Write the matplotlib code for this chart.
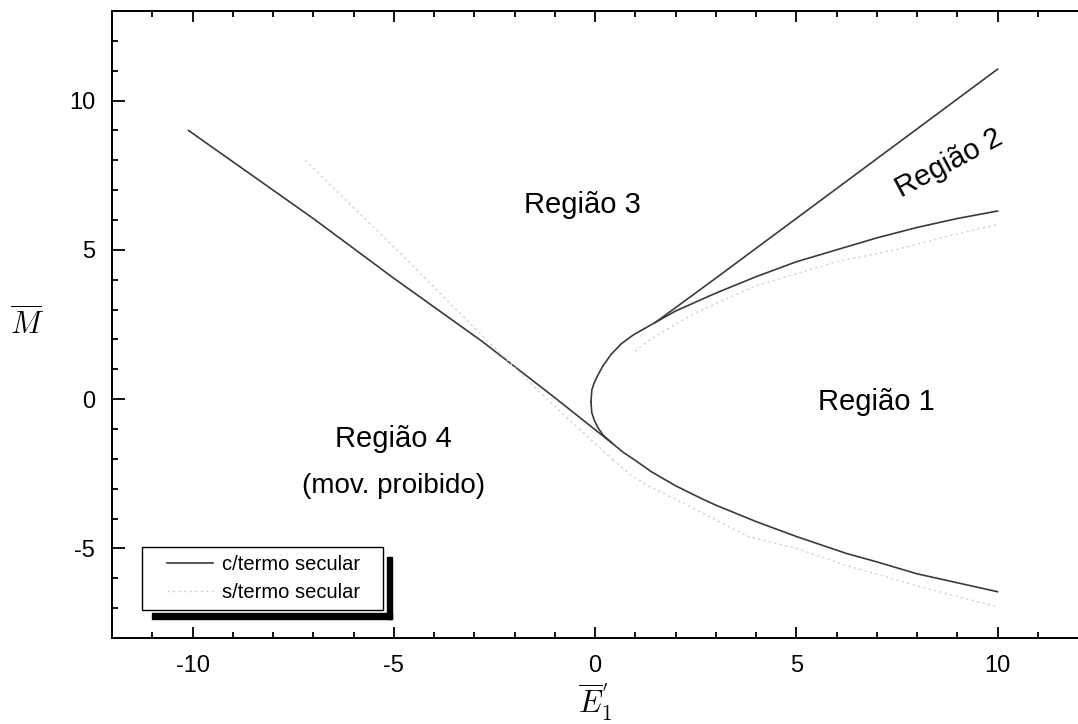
import matplotlib
matplotlib.use("Agg")
import matplotlib.pyplot as plt
from matplotlib.patches import Rectangle

plt.rcParams['font.family'] = ['Liberation Sans', 'DejaVu Sans']
plt.rcParams['mathtext.fontset'] = 'cm'
plt.rcParams['axes.unicode_minus'] = False

# curva c/termo secular
ramo_sup_E = [10.0, 9.0, 8.0, 7.0, 6.0, 5.0, 4.0, 3.0, 2.0, 1.5, 0.95, 0.65, 0.4, 0.2, 0.07, -0.02, -0.08, -0.1]
ramo_sup_M = [6.3, 6.05, 5.75, 5.4, 5.0, 4.6, 4.1, 3.55, 2.95, 2.57, 2.15, 1.85, 1.5, 1.12, 0.8, 0.55, 0.3, -0.1]
ramo_inf_E = [-0.1, -0.08, -0.02, 0.07, 0.2, 0.42, 0.7, 1.0, 1.4, 2.0, 2.6, 3.0, 4.0, 5.0, 6.25, 7.0, 8.0, 9.0, 10.0]
ramo_inf_M = [-0.1, -0.45, -0.7, -0.95, -1.2, -1.47, -1.78, -2.05, -2.43, -2.9, -3.3, -3.55, -4.1, -4.6, -5.17, -5.45, -5.85, -6.15, -6.45]
reta_sup_E = [1.5, 3.0, 5.0, 7.0, 10.0]
reta_sup_M = [2.57, 4.05, 6.05, 8.05, 11.05]
reta_esq_E = [-10.1, -7.0, -5.0, -2.8, -1.0, 0.42]
reta_esq_M = [9.0, 6.05, 4.05, 1.93, 0.05, -1.47]

# curva s/termo secular (tracejado claro)
cinza_esq_E = [-7.2, -5.0, -3.0, -1.5, -0.6, 0.44]
cinza_esq_M = [8.0, 5.1, 2.4, 0.4, -0.74, -2.03]
cinza_inf_E = [0.44, 0.88, 1.37, 2.0, 3.8, 5.0, 6.24, 8.0, 10.0]
cinza_inf_M = [-2.03, -2.53, -2.94, -3.35, -4.6, -5.0, -5.57, -6.25, -6.96]
cinza_sup_E = [1.0, 1.37, 2.5, 4.0, 6.0, 7.46, 8.9, 10.0]
cinza_sup_M = [1.6, 2.0, 2.9, 3.8, 4.6, 5.0, 5.5, 5.85]

fig = plt.figure(figsize=(10.78, 7.24), dpi=100)
ax = fig.add_axes([0.1039, 0.1188, 0.8961, 0.866])

cor = '#3a3a3a'
cinza = '#cfcfcf'
estilo = (0, (1.5, 2.5))
ax.plot(ramo_sup_E, ramo_sup_M, color=cor, lw=1.2, label='c/termo secular')
ax.plot(ramo_inf_E, ramo_inf_M, color=cor, lw=1.2)
ax.plot(reta_sup_E, reta_sup_M, color=cor, lw=1.2)
ax.plot(reta_esq_E, reta_esq_M, color=cor, lw=1.2)

ax.plot(cinza_esq_E, cinza_esq_M, color=cinza, lw=1.0, ls=estilo, label='s/termo secular')
ax.plot(cinza_inf_E, cinza_inf_M, color=cinza, lw=1.0, ls=estilo)
ax.plot(cinza_sup_E, cinza_sup_M, color=cinza, lw=1.0, ls=estilo)

ax.set_xlim(-12, 12)
ax.set_ylim(-8, 13)
ax.set_xticks([-10, -5, 0, 5, 10])
ax.set_yticks([-5, 0, 5, 10])
ax.set_xticks(range(-11, 12), minor=True)
ax.set_yticks(range(-7, 13), minor=True)
ax.tick_params(which='both', direction='in', top=True, right=False, width=1.3, labelsize=17)
ax.tick_params(axis='x', which='major', length=8, pad=12)
ax.tick_params(axis='y', which='major', length=9, pad=12)
ax.tick_params(which='minor', length=4.5)
for lado in ['left', 'bottom', 'top']:
    ax.spines[lado].set_linewidth(1.4)
ax.spines['right'].set_visible(False)

ax.set_xlabel(r"$\overline{E}_1^{'}$", fontsize=22)
ax.xaxis.set_label_coords(0.5, -0.07)
ax.set_ylabel(r"$\overline{M}$", fontsize=22, rotation=0, va='center')
ax.yaxis.set_label_coords(-0.088, 0.5)

ax.text(-0.3, 6.5, 'Região 3', fontsize=21, ha='center', va='center')
ax.text(8.8, 7.9, 'Região 2', fontsize=21, ha='center', va='center', rotation=28)
ax.text(7.0, -0.1, 'Região 1', fontsize=21, ha='center', va='center')
ax.text(-5.0, -1.35, 'Região 4', fontsize=21, ha='center', va='center')
ax.text(-5.0, -2.9, '(mov. proibido)', fontsize=20, ha='center', va='center')

# legenda: caixa e sombra desenhadas a mao, como no original
leg = ax.legend(loc='center left', bbox_to_anchor=(0.0569, 0.0949), fontsize=14.5,
                frameon=False, borderaxespad=0, borderpad=0, handlelength=2.3,
                handletextpad=0.45, labelspacing=0.45)
ax.add_patch(Rectangle((0.0311, 0.0447), 0.2494, 0.1004, transform=ax.transAxes,
                       facecolor='white', edgecolor='black', lw=1.0, zorder=4))
ax.add_patch(Rectangle((0.2847, 0.0303), 0.0052, 0.0989, transform=ax.transAxes,
                       color='black', zorder=4))
ax.add_patch(Rectangle((0.0414, 0.0303), 0.2485, 0.0096, transform=ax.transAxes,
                       color='black', zorder=4))
leg.set_zorder(5)

fig.savefig('out.png', dpi=100)
